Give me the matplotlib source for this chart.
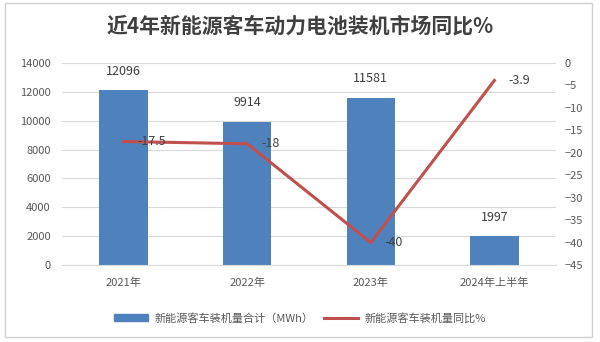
import matplotlib
matplotlib.use("Agg")
import matplotlib.pyplot as plt
from matplotlib.patches import Rectangle

plt.rcParams['font.family'] = ['Noto Sans CJK SC', 'DejaVu Sans']

categories = ["2021年", "2022年", "2023年", "2024年上半年"]
volume_mwh = [12096, 9914, 11581, 1997]
yoy_pct = [-17.5, -18, -40, -3.9]

title = "近4年新能源客车动力电池装机市场同比%"
bar_name = "新能源客车装机量合计（MWh）"
line_name = "新能源客车装机量同比%"

bar_color = "#4F81BD"
line_color = "#C0504D"
text_color = "#595959"
grid_color = "#D9D9D9"

fig = plt.figure(figsize=(6.0, 3.42), dpi=100)
fig.patch.set_facecolor("white")
fig.patches.append(Rectangle((0.008, 0.015), 0.978, 0.976, transform=fig.transFigure,
                             fill=False, edgecolor="#D0D0D0", linewidth=1.0))

ax = fig.add_axes([0.103, 0.225, 0.824, 0.591])
x = list(range(len(categories)))
ax.bar(x, volume_mwh, width=0.39, color=bar_color, zorder=2)
ax.set_ylim(0, 14000)
ax.set_yticks(range(0, 14001, 2000))
ax.set_xlim(-0.5, len(categories) - 0.5)
ax.set_xticks(x)
ax.set_xticklabels(categories)
ax.grid(axis="y", color=grid_color, linewidth=0.8, zorder=0)
for s in ax.spines.values():
    s.set_visible(False)
ax.spines["bottom"].set_visible(True)
ax.spines["bottom"].set_color(grid_color)
ax.tick_params(axis="both", length=0, labelsize=8, colors=text_color, pad=8)
ax.tick_params(axis="x", pad=9)

for xi, v in zip(x, volume_mwh):
    ax.annotate(str(v), (xi, v), xytext=(0, 9), textcoords="offset points",
                ha="center", va="bottom", fontsize=9, color="#404040")

ax2 = ax.twinx()
ax2.plot(x, yoy_pct, color=line_color, linewidth=2.2, zorder=3)
ax2.set_ylim(-45, 0)
ax2.set_yticks(range(-45, 1, 5))
for s in ax2.spines.values():
    s.set_visible(False)
ax2.tick_params(axis="y", length=0, labelsize=8, colors=text_color, pad=6)

for xi, v in zip(x, yoy_pct):
    ax2.annotate(f"{v:g}", (xi, v), xytext=(10, 0), textcoords="offset points",
                 ha="left", va="center", fontsize=9, color="#404040")

fig.text(0.5, 0.925, title, ha="center", va="center", fontsize=15,
         fontweight="bold", color="#404040")

handles = [Rectangle((0, 0), 1, 1, color=bar_color),
           plt.Line2D([0], [0], color=line_color, linewidth=2.2)]
fig.legend(handles, [bar_name, line_name], loc="center", bbox_to_anchor=(0.5, 0.07),
           ncol=2, frameon=False, fontsize=8, labelcolor=text_color,
           handlelength=3.0, handleheight=0.6, columnspacing=1.0, handletextpad=0.6)

fig.savefig("out.png", dpi=100, facecolor="white")
